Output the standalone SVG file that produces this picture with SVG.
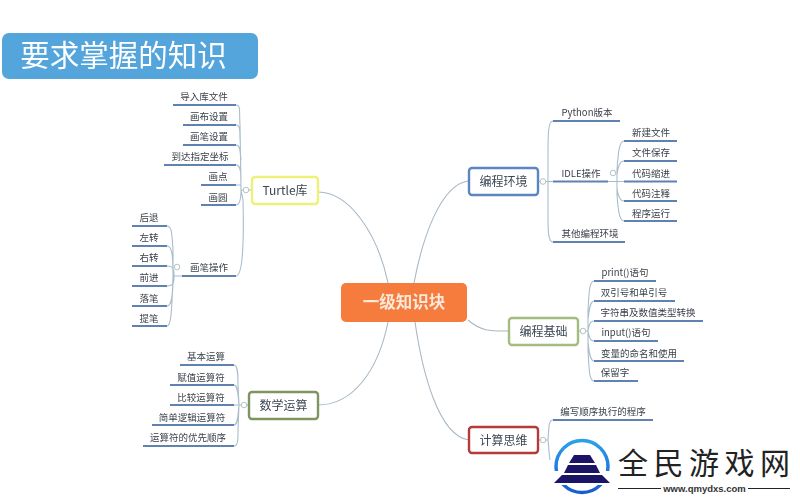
<svg xmlns="http://www.w3.org/2000/svg" width="800" height="500" viewBox="0 0 800 500">
<defs>
<style>
text{font-family:"Noto Sans CJK SC","Liberation Sans",sans-serif;fill:#3a3f48}
.leaf{font-size:9.5px;text-anchor:middle}
.node{font-size:12px;text-anchor:middle;fill:#3c4654}
.ln{fill:none;stroke:#5f82b0;stroke-width:2}
.br{fill:none;stroke:#a9bdcc;stroke-width:1.1}
.main{fill:none;stroke:#a8b8c4;stroke-width:1.1}
.dot{fill:#fff;stroke:#a9bdbd;stroke-width:.9}
.box{fill:#fff;stroke-width:2.4}
</style>
<linearGradient id="ring" x1="0" y1="0" x2="0" y2="1"><stop offset="0" stop-color="#2aa0ea"/><stop offset="1" stop-color="#1a5cd0"/></linearGradient>
<filter id="soft" x="-2%" y="-2%" width="104%" height="104%"><feGaussianBlur stdDeviation="0.35"/></filter>
</defs>
<rect width="800" height="500" fill="#fff"/>
<g filter="url(#soft)">
<g id="title"><rect x="2" y="33" width="256" height="46" rx="7" fill="#55a5dd"/><text x="123.500" y="66" font-size="29.500" style="text-anchor:middle;fill:#fff">要求掌握的知识</text></g>

<g id="connectors">
<path class="main" d="M318 192C350 192 378 235 388 283"/>
<path class="main" d="M318 405C352 405 378 372 388 322"/>
<path class="main" d="M468 181C440 185 422 240 414 283"/>
<path class="main" d="M468 320C482 332 492 331 509 331"/>
<path class="main" d="M469 440C438 436 422 370 415 322"/>

<path class="br" d="M251 190H241M236 105C241 105 239 110 240 125L241 190M236 125C240 125 240 130 240 140M236 145C240 145 240 150 241 160M236 165C240 165 241 170 241 180M236 185H241M236 205C240 205 241 198 241 190M241 190L243 200C244 240 243 276 236 276"/>
<path class="ln" d="M173 105H236M183 125H236M183 145H236M164 165H236M201 185H236M201 205H236M182 276H236"/>
<circle class="dot" cx="246" cy="190" r="2.800"/>

<path class="br" d="M182 276H173M167 226C172 226 172 235 173 250L173 276C172 300 172 326 167 326M167 246C172 246 173 255 173 276M167 266C174 266 174 270 174 276C174 282 174 286 167 286M167 306C172 306 173 295 173 276"/>
<path class="ln" d="M132 226H167M132 246H167M132 266H167M132 286H167M132 306H167M132 326H167"/>
<circle class="dot" cx="177" cy="267" r="2.800"/>

<path class="br" d="M249 405H239M234 365C238 365 238 375 238 385L239 405L238 430C238 440 238 446 234 446M234 385C238 385 238 395 239 405M234 405H239M234 425C238 425 238 415 239 405"/>
<path class="ln" d="M180 365H234M170 385H234M170 405H234M152 425H234M143 446H234"/>
<circle class="dot" cx="244" cy="405" r="2.800"/>

<path class="br" d="M538 181.500H553M553 121C548 121 548 135 548 155L548 215C548 230 548 242 553 242"/>
<path class="ln" d="M553 121H620M553 181.500H608M553 242H625"/>
<circle class="dot" cx="543" cy="181.500" r="2.800"/>

<path class="br" d="M608 181.500H618M624 141C619 141 618 155 617 170L617 195C618 208 619 221 624 221M624 161C620 161 618 165 617 175M624 181.500H617M624 201C620 201 618 197 617 188"/>
<path class="ln" d="M624 141H677M624 161H677M624 181.500H677M624 201H677M624 221H677"/>
<circle class="dot" cx="613" cy="173" r="2.800"/>

<path class="br" d="M578 331H588M594 281C589 281 589 295 588 310L588 350C589 368 589 381 594 381M594 301C590 301 589 310 588 320M594 321C590 321 589 325 588 331M594 341C590 341 589 337 588 331M594 361C590 361 589 352 588 342"/>
<path class="ln" d="M594 281H656M594 301H675M594 321H703M594 341H658M594 361H684M594 381H638"/>
<circle class="dot" cx="583" cy="331" r="2.800"/>

<path class="br" d="M538 440H548M553 420C548 420 549 430 548 440C549 448 549 455 550 460"/>
<path class="ln" d="M553 420H653"/>
<circle class="dot" cx="543" cy="440" r="2.800"/>
</g>

<g id="center"><rect x="341" y="283" width="126" height="39" rx="5" fill="#f57c3c"/><text x="404" y="308" font-size="16.500" font-weight="700" style="text-anchor:middle;fill:#fde9dc">一级知识块</text></g>
<g id="turtle"><rect class="box" x="252" y="177" width="66" height="27" rx="3" stroke="#eef07a"/><text class="node" x="285" y="195">Turtle库</text></g>
<g id="math"><rect class="box" x="249" y="392" width="69" height="27" rx="3" stroke="#7f9460"/><text class="node" x="283.500" y="410">数学运算</text></g>
<g id="env"><rect class="box" x="469" y="168" width="69" height="27" rx="3" stroke="#5b86c0"/><text class="node" x="503.500" y="186">编程环境</text></g>
<g id="base"><rect class="box" x="509" y="318" width="69" height="27" rx="3" stroke="#a4bc80"/><text class="node" x="543.500" y="336">编程基础</text></g>
<g id="think"><rect class="box" x="469" y="427" width="69" height="26" rx="3" stroke="#b33a3a"/><text class="node" x="503.500" y="445">计算思维</text></g>

<g id="labels">
<text class="leaf" x="204" y="100">导入库文件</text>
<text class="leaf" x="209" y="120">画布设置</text>
<text class="leaf" x="209" y="140">画笔设置</text>
<text class="leaf" x="200" y="160">到达指定坐标</text>
<text class="leaf" x="218" y="180">画点</text>
<text class="leaf" x="218" y="201">画圆</text>
<text class="leaf" x="209" y="271">画笔操作</text>
<text class="leaf" x="149" y="221">后退</text>
<text class="leaf" x="149" y="241">左转</text>
<text class="leaf" x="149" y="261">右转</text>
<text class="leaf" x="149" y="281">前进</text>
<text class="leaf" x="149" y="302">落笔</text>
<text class="leaf" x="149" y="322">提笔</text>
<text class="leaf" x="206" y="360">基本运算</text>
<text class="leaf" x="201" y="381">赋值运算符</text>
<text class="leaf" x="201" y="401">比较运算符</text>
<text class="leaf" x="192" y="421">简单逻辑运算符</text>
<text class="leaf" x="188" y="441">运算符的优先顺序</text>
<text class="leaf" x="587" y="116">Python版本</text>
<text class="leaf" x="581" y="177">IDLE操作</text>
<text class="leaf" x="590" y="237">其他编程环境</text>
<text class="leaf" x="651" y="136">新建文件</text>
<text class="leaf" x="651" y="156">文件保存</text>
<text class="leaf" x="651" y="177">代码缩进</text>
<text class="leaf" x="651" y="197">代码注释</text>
<text class="leaf" x="651" y="217">程序运行</text>
<text class="leaf" x="625" y="276">print()语句</text>
<text class="leaf" x="634" y="296">双引号和单引号</text>
<text class="leaf" x="648" y="316">字符串及数值类型转换</text>
<text class="leaf" x="626" y="336">input()语句</text>
<text class="leaf" x="639" y="357">变量的命名和使用</text>
<text class="leaf" x="615" y="376">保留字</text>
<text class="leaf" x="603" y="415">编写顺序执行的程序</text>
</g>
</g>

<g id="logo">
<rect x="551" y="426" width="249" height="74" fill="#fff"/>
<circle cx="582" cy="466.500" r="26" fill="none" stroke="url(#ring)" stroke-width="3.500"/>
<rect x="551" y="471" width="62" height="14" fill="#fff"/>
<path d="M574 455H590L595 463H569Z" fill="#1c1464"/>
<path d="M568 465H596L600 473H564Z" fill="#1c1464"/>
<path d="M562 475H602L610 483H554Z" fill="#1c1464"/>
<text x="618" y="474" font-size="30" textLength="172" lengthAdjust="spacing" style="fill:#222">全民游戏网</text>
<path d="M618 488.500H661M748 488.500H790" stroke="#222" stroke-width="1.200" fill="none"/>
<text x="704.500" y="492" font-size="9.500" font-weight="700" style="text-anchor:middle;fill:#333;font-family:'Liberation Sans',sans-serif">www.qmydxs.com</text>
</g>
</svg>
